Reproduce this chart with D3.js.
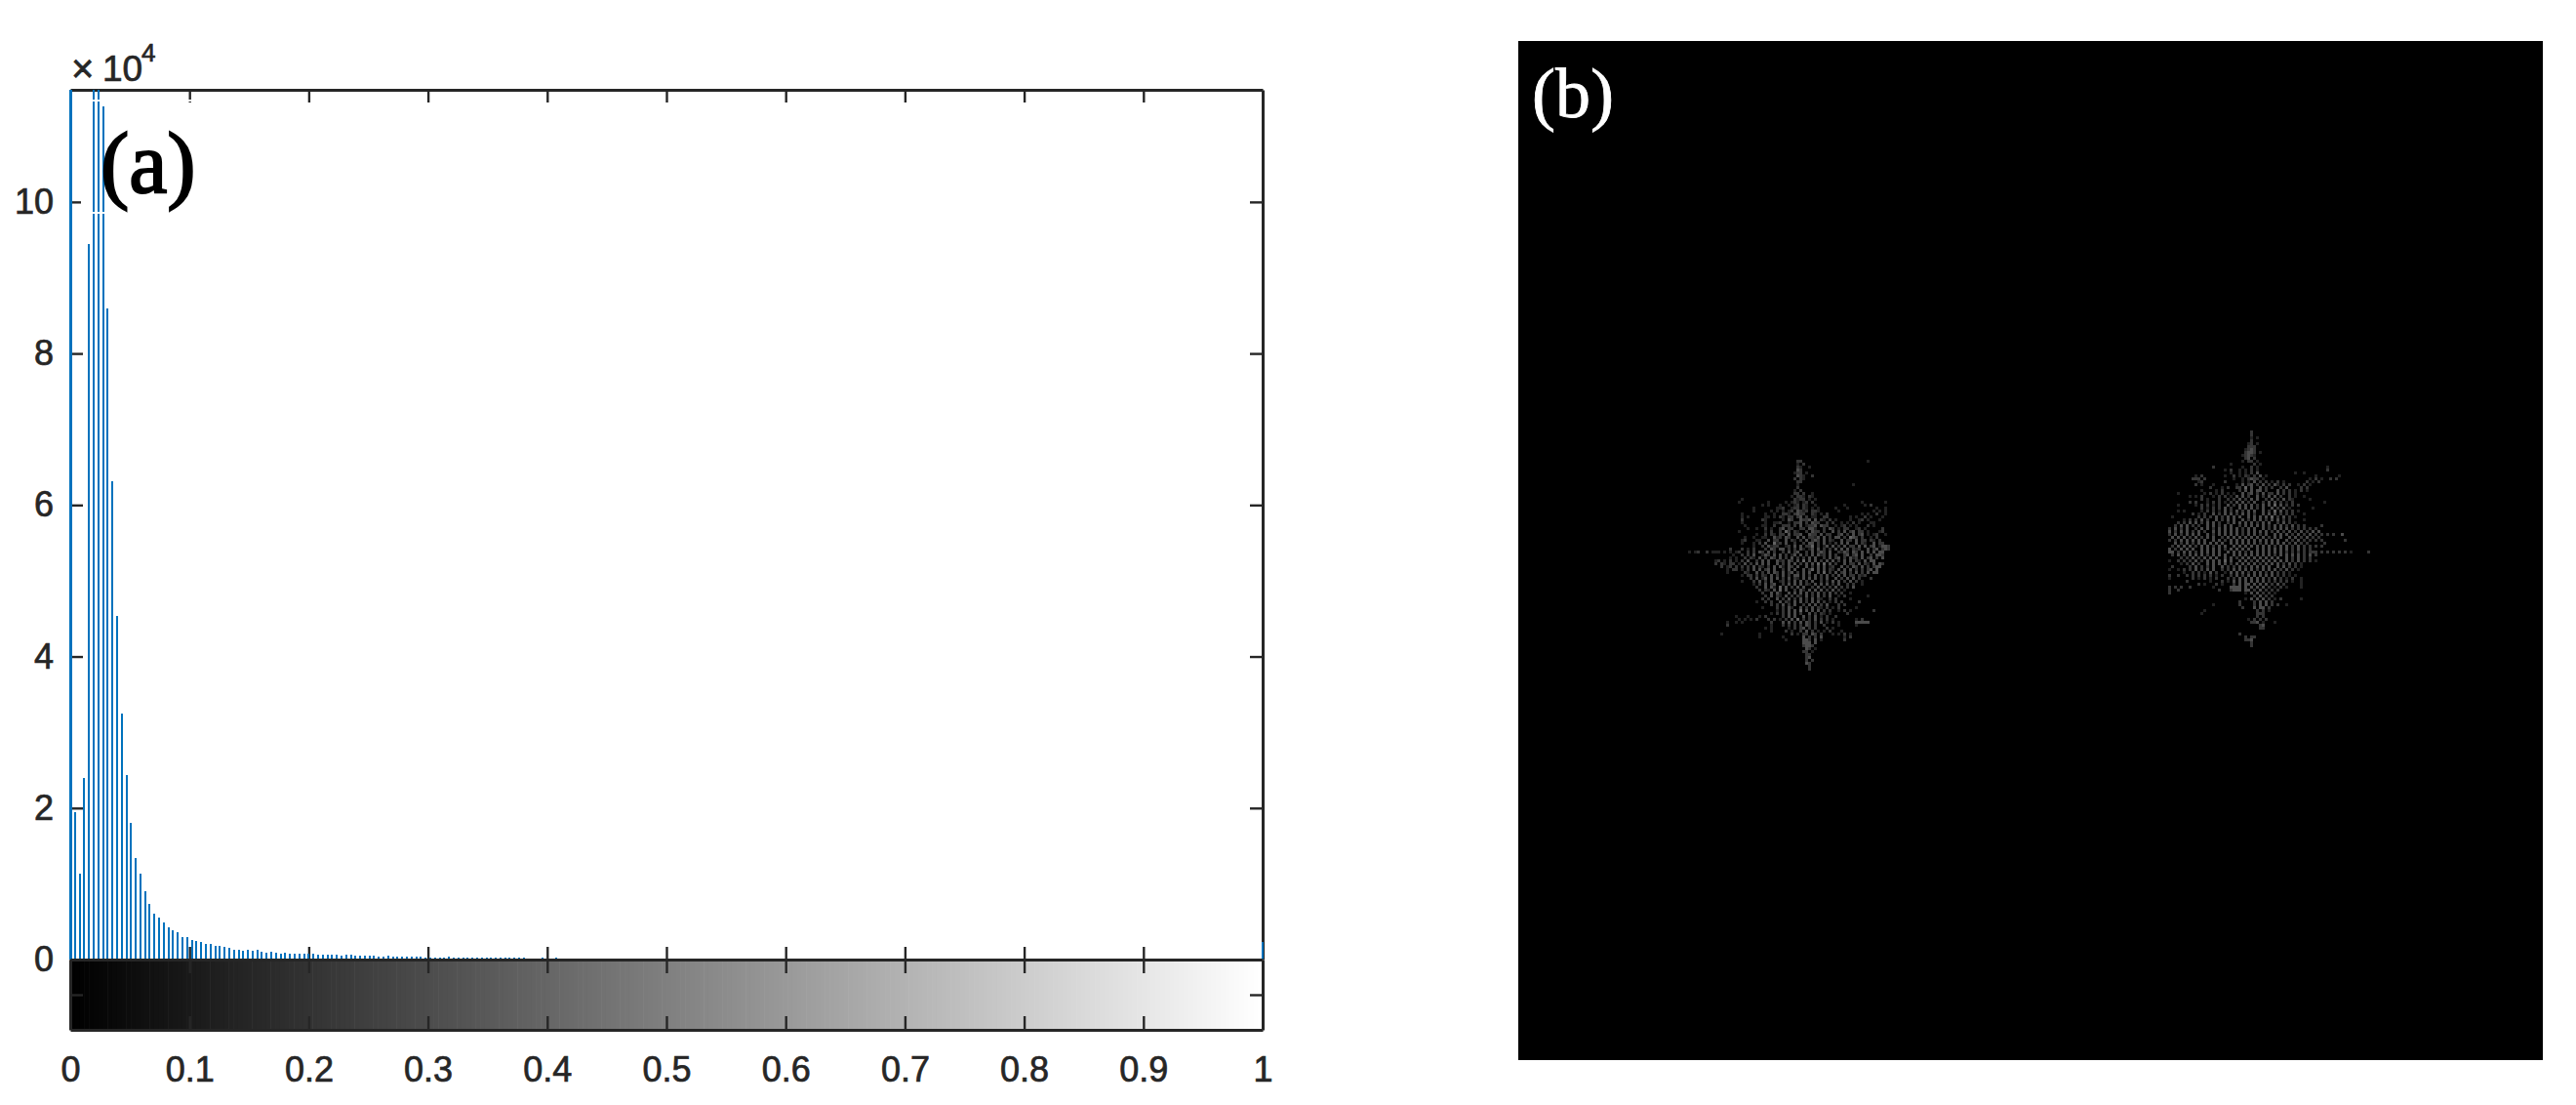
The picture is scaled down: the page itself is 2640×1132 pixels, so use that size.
<!DOCTYPE html>
<html><head><meta charset="utf-8">
<script src="https://cdnjs.cloudflare.com/ajax/libs/d3/7.9.0/d3.min.js"></script>
<style>html,body{margin:0;padding:0;background:#fff}svg{display:block}</style>
</head><body><svg id="c" width="2640" height="1132"></svg>
<script>
// histogram counts in units of 1e4, for gray bins 0..105 (bins 105..254 are empty)
const counts = [11.6,1.95,1.14,2.4,9.45,11.6,11.6,11.26,8.6,6.31,4.53,3.25,2.43,1.81,1.34,1.14,.906,.74,.6,.56,
.49,.43,.39,.365,.3,.29,.26,.25,.236,.2,.2,.185,.185,.17,.16,.133,.133,.12,.133,.12,
.133,.107,.095,.107,.095,.08,.095,.08,.08,.08,.08,.08,.08,.06,.06,.06,.06,.06,.05,.06,
.06,.047,.047,.047,.047,.047,.034,.034,.05,.034,.034,.034,.034,.034,.034,.034,.02,.02,.02,.02,
.02,.034,.02,.02,.02,.02,.02,.02,.02,.02,.02,.02,.02,.02,.02,.02,.02,.02,0,0,
0,.02,0,0,.02];
const lastBinCount = .23;
const yTicks = [0,2,4,6,8,10];
const xTicks = [0,.1,.2,.3,.4,.5,.6,.7,.8,.9,1];
const labelA = "(a)", labelB = "(b)";
// panel (b): transcribed gray cells, one string per pixel row; '.' is black, digits are brightness levels
const leftBlob = [
"......................................22......................1",
"......................................1.2",
"......................................21..1",
"......................................32.",
".....................................122.1",
"......................................321..2",
".....................................2.21",
"......................................22",
"......................................1..................1",
"......................................2",
".....................................1.2",
".....................................22.2..1",
"....................................1.221.21",
"...................1.................2122.1.1",
"..................1.........1.....1.121.12.2................1.......1",
"..........................1.1...1..1.12.21..1.........1......1.2",
".......................1.......112..122.21.1.1.....1...1.........1..1",
".......................1.....1.1.1.12.3212.221......1...........1.1.1",
"...................1.......1..1..221.2322..21.1.2...........1.1..2..1",
"...................1.1.....11.1.21.22.23.2.11..22.......1.1..2.1...1",
"...................2......21.....1.32..3223.3.21.2.1....1..12.1...1",
"...................1.......1..112..1.223.2.322..2.2..1.1.2.1...11",
"....................1.....11..2..222.2.3.1223.322..1.12.1.1...2.1",
".....................1..1..2.1..23.22..22.331..2.32.1.22..12.1.....2",
"..................1........1.2..2.42.21..2.322.2..3.2.3.23.22.1...12",
"........................1..2.21.22.3.223..322.3.22..23.2.3.23.1.12..1",
"....................1..1..11..312.32..3.3.2213.3.2.33.2.432.2..1.2",
"...................12...11..3.22..3.21.2.3.232.3.21..3.22.3.22.21.2",
"...................1...1.2.3..412.3..2..2.33.2.3.1.2.3.3..3.21..3.22",
".......................1..2.3122..12.3.3.224.2.13.3.2.3.22.3.3.23.1332",
"...............2...2.1.2...2.32.33.2.2.31.13.3.2.2.3.3.3.212..3.23.232",
".1.12..2.111.1.1.12..2.2.32.3.2..2.3.23..2.3.232.3..2132.32.3.3.3.33",
"................1..2.2.3..132.3.3.2.13.3.2.3.312.3.2..23.23.3..2.332",
"...............1.1..2.21.3.2.32.3.2.3.2.2.3.3..2.3.23.2.312.3.23.2.3",
"..........12.1.2.1.2.3..2.3.3..312.32.3.4.3.3.2.3.3.2.3.3.21.3.33",
"..........2.21.22.1.3.2.3.3.3..3.2.3.3.2.3.3.4.4.3.2..3.22.3.21.3.32",
"............2.12.2.2.2.3.21.2.3.31.32.3..3.2.3.3.12..3.2.32.3.2.233",
"..............1.22.1.2.3.3.23.3..2.3.3..3.24.3.3.21.3.3.3.2.2.23.3",
"..............1.....21..3.2.3.32.3.23.2.3.3..3.4.2.3.23.2.3.2.3.33",
"...................1.22.2.21.3.2.3.2.33.3.2.3.2.3.2.3.3.22.212",
"......................2.3.13.3.3.2.3.21.3.3.3.2.3..3.2.3.3.2...2",
"...................1...2.3.2.3..12.2.3.3.2.3..2.2.3.3.2.3.2.1",
".......................1.2.3.23..2.3.3.3.21.3.3.3.2.3..2.2..1",
"........................2..3.31.4.3.2.3.3..2.3.2.2.3.2.2.3",
".........................2.21.3.4.3..2.31.3.3.3.2.3.2.1",
"..........................2..3.31..3.3.3.3.2.3.2.3.2.2..1",
"...........................2.3.21.3.2.21.3.2.3.2.3..1.2.......1",
"..........................2.2..3.2.3.2.3.2.3.21..2.2....1",
"........................1..2.2..3.21.3.3.2.3.3.2.1.2.2.....2",
".............................2.2.3.2.3..2.3.3.2.3...2.2",
"..........................1....2.2.31..3.2.3.21.2.1.2.....1",
"...............................1.2.3.3.4.3.3.3.2.2..1.2.1.......2",
".............................1.2.2.3.3.2..3.2.21.1.....2",
".................1...1...1.2.....2.3.3..3.2.3.1.2..2",
"..................1.1.1.2...2.2.1.2.3.4.2.2.3.2.2.1.......1.2",
"..............1..1.1.........2...3.3.2.3.32.2.3.1.2.1.....33333",
"..............2..............1...2.2.2.2.32.2..2....1.....1",
"...........................1.1.....1.2.23.2.2...2.1",
".............................1....2.1..2.3.2.1.1.2...1",
"............1............1..........2.1.22.32.2...1.1.2.1",
".........................1.......1......3.2.2.3.......1.2",
"..................................1.....332.3.1.......2",
"........................................333.3",
"........................................2332",
".........................................32.1",
"........................................22.1",
".........................................22",
".........................................23",
".........................................2.2",
".........................................32",
"..........................................2",
"..........................................2",
];
const rightBlob = [
"............................2",
"............................2",
"............................1.1",
"............................2",
"...........................12.1",
"...........................222",
"..........................1232",
"..........................2332.1",
".........................12321",
"..........................23.2",
".........................1.22.1",
".....................1.......2.1",
"...............2.........1..2.1.......................1",
"...................1.2..1.1.2.1.......................2",
".....................1..1.1.2.3............1..1.......",
".........1.2.......1..2.1.21.2.3.1................1.......1",
"........222.2.........1..1.2322.1...............1.2.1..2.2",
"..........12.......2.....1.1.3.2.2.1.2.1.......2.1.2",
".........2.1...1.......1.3.23.2.3.2.31.2.2..1.2.1",
"..............2...1.2..22.4.3..3.2.2..2.3....2.2",
"...........1....1.2.....2.3.3.33.2...3.2.2.1.2.1",
"...1........1.2.1.2.1.1..3.23.2.3.22.3.2.2.1",
".......1.1.2...1.2.2.1.3.3.2..3.2.3.3.2..2.1..1",
"...........2.1...2..2.2.3.2.3.3..2.3.2.3.21.....1",
".......2.2...1.2.2.1.2.3.3.2.3..2.3.3.2.1.2..........1",
"...1.....1.2.2.1.2..3.2.3.3.3.2.3.3.4.3.2.2.2",
"...........2.1.2.2.3.2..3.3.3.2.3..3.2.3.1.......1",
"...1.1.....1.2.2.1.3.2.3.2.3.3..3.2.4.3.2.2.1",
"........2.1.2..3.2.3.3.2.3.3.2..3.3.3.2.2.2...1",
".1........2.2.2.3.2.3.3.3..3.3.3.3.4.2.3.2.1",
".....1.2.2.3.2..3.2.3.3..3.2.3.3.2.3.3.2.2....1",
"...2.2.3.3.2.3.3.2..2.3.3.3.3.2.3.3..2.3.2.1",
"..2.3.3.2.2..3.3.2.3.3..2.3.3.3.3.2.3.3.2.3.2.2.....2",
"2.3.2.3..2.3.3.2.3.3.3.3.2.3.3..3.2.3.3.3.2.2.2.2.2",
"3.2.3.3.2.3.2..3.3.3.3.3.2.3.3.3.3.2.3.2.3.2.3.2.3.3",
"2.3.2.3.3.3..3.2.3.3.3.3.2.3.3.2.3..3.3.3.2.3.2.3.2.2.2.2..3",
".3.3.3.2.3.2.3.3..2.3.3.3.3.3.3.3.2.3.3..3.3.2.3.2.2",
"2.2.3.3.3.3.3..3.3.2.3.3.3.3.3.3.3.3.3..3.2.3.2.2.2.2.......2",
"..3.2.3.2.3.3.3.3.3..3.3.3.3.3.2.3.3.3.3.2.3.2.2.....2",
".2.3.3.3.2.3.3.2.3.3..3.3.3.3.3.3.3.2.3.3.2.3.2.2.2.2",
"3.2.3.3.3..3.3.3.3.2.3.3.3.3..3.3.3.3.3.3.2.3.2.2",
"33.2.3.3.2.3.3.3.3..3.3.3.2.3.3.3.3.3.3.2.2.2.2.222.2.2.2.2.2.1.....2",
".2.3.2.3.3.3.2.3.3.3..3.3.3.3.3.3.3.2.3.3.3.3.2.3.2",
"....2.2.3.2.3.3.3..3.3.2.3.3.3.3.3.3.3..3.2.3.2.2",
"1..2.2.2.3.2.3.3.3.4.3..3.3.2.3.3.3.3.3.3.2.3.2.2.1",
"....1.2.3.2..3.3.3.3.2.3.3.3.3.2.3.3.3.2.3.2.1",
".2.....2.3.2.2.3..3.2.2.3.2.3.3.3.3..3.3.2.2.1",
"1..1.2.2.3.2.3.3..2.2.3.3.3.3.2.3.3.3.2.3.2.1",
".....1..2.2.1.3.2..1.3.3.3.2.3.3.2.3.2.2.1",
"2..2..2.2.2.2.2.1.2..2.3.2.3.3.3.3.3.2.2.1.1",
"1.......2.1.2.1.2...2.2.3.3.3.3.3.2.3.2.1.2..1",
"......2.......1...2.1.3.3.3.3.3.3.2.2.2.2.1..1",
"..........2.1...2.1...2.3.33.3.3.3.2.3.2.....1",
"2.2.2..2.......1.....3333.3.3.3.3.2.1.2.1....1",
"2..2.............2...2333.33.2.3.2.2.2",
"2.........................1.3.3.2.2.1",
".............................2.3.2.2",
"..........................1.3.3.3.2.1.2......1",
"........................2....2.3.3.2",
"...............1........2....2.3.3.2.2..1",
".........................2...3.33.2",
"............1.................2.2.1",
"...........1..................222",
"..............................2.2",
"...........................1.2.2.2",
"............................223.1...1",
"...............................23",
"...............................22",
"........................................",
"........................2",
"..........................2.22",
"..........................223",
"............................2",
"............................2",
];

const svg = d3.select("#c");
const ink = "#262626", barColor = "#0072BD", fontSans = "'Liberation Sans', Arial, sans-serif", fontSerif = "'Liberation Serif', 'Times New Roman', serif";
const L = 72, R = 1294, T = 92, B0 = 983, B1 = 1055;
const x = d3.scaleLinear().domain([0,1]).range([L,R]);
const y = d3.scaleLinear().domain([0,11.48]).range([B0,T]).clamp(true);
const yBar = d3.scaleLinear().domain([0,1]).range([B1,B0]);

function styleAxis(g){
  g.selectAll("path.domain").attr("stroke",ink).attr("stroke-width",3);
  g.selectAll(".tick line").attr("stroke",ink).attr("stroke-width",2.4);
  g.selectAll("text").attr("fill",ink).attr("stroke",ink).attr("stroke-width",.7).style("font-family",fontSans).style("font-size","36px");
  g.attr("font-family",null).attr("font-size",null);
}
const blank = () => "";
const main = svg.append("g");
main.append("g").attr("transform",`translate(${L},0)`).call(d3.axisLeft(y).tickValues(yTicks).tickSize(-13).tickSizeOuter(0).tickPadding(17).tickFormat(d3.format("d"))).call(styleAxis);
main.append("g").attr("transform",`translate(${R},0)`).call(d3.axisRight(y).tickValues(yTicks).tickSize(-13).tickSizeOuter(0).tickFormat(blank)).call(styleAxis);
main.append("g").attr("transform",`translate(0,${T})`).call(d3.axisTop(x).tickValues(xTicks.slice(1,-1)).tickSize(-13).tickSizeOuter(0).tickFormat(blank)).call(styleAxis);
main.append("g").attr("transform",`translate(0,${B0})`).call(d3.axisBottom(x).tickValues(xTicks.slice(1,-1)).tickSize(-13).tickSizeOuter(0).tickFormat(blank)).call(styleAxis);

// histogram stems
const bins = counts.map((c,i)=>({v:i/255,c})).concat([{v:1,c:lastBinCount}]).filter(d=>d.c>0);
svg.append("g").selectAll("rect").data(bins).join("rect")
  .attr("x",d=>Math.round(x(d.v))-1).attr("width",d=>d.v===0?3:2)
  .attr("y",d=>y(d.c)).attr("height",d=>B0-y(d.c)).attr("fill",barColor).attr("shape-rendering","crispEdges");

// gray ramp
const ramp = d3.scaleLinear().domain([0,255]).range([0,1]);
const gray = d3.scaleLinear().domain([0,1]).range(["#000000","#ffffff"]);
const rampBand = d3.scaleBand().domain(d3.range(256)).range([L,R]);
svg.append("g").selectAll("rect").data(d3.range(256)).join("rect")
  .attr("x",d=>rampBand(d)).attr("width",rampBand.bandwidth()+.6)
  .attr("y",yBar(1)).attr("height",yBar(0)-yBar(1)).attr("fill",d=>gray(ramp(d)));

const cb = svg.append("g");
cb.append("g").attr("transform",`translate(0,${B0})`).call(d3.axisTop(x).tickValues(xTicks.slice(1,-1)).tickSize(-14).tickSizeOuter(0).tickFormat(blank)).call(styleAxis);
cb.append("g").attr("transform",`translate(0,${B1})`).call(d3.axisBottom(x).tickValues(xTicks).tickSize(-14).tickSizeOuter(0).tickPadding(27).tickFormat(d3.format("~g"))).call(styleAxis);
cb.append("g").attr("transform",`translate(${L},0)`).call(d3.axisLeft(yBar).tickValues([.5]).tickSize(-13).tickSizeOuter(0).tickFormat(blank)).call(styleAxis);
cb.append("g").attr("transform",`translate(${R},0)`).call(d3.axisRight(yBar).tickValues([.5]).tickSize(-13).tickSizeOuter(0).tickFormat(blank)).call(styleAxis);

// exponent
const expo = svg.append("g").attr("fill",ink).attr("stroke",ink).attr("stroke-width",.7).style("font-family",fontSans);
expo.append("text").attr("x",73).attr("y",84).style("font-size","40px").text("×");
expo.append("text").attr("x",105).attr("y",83).style("font-size","37px").text("10");
expo.append("text").attr("x",145).attr("y",63).style("font-size","26px").text("4");

// text box of (a): its white outline cuts through the stems and ticks
svg.append("rect").attr("x",84).attr("y",103).attr("width",122).attr("height",115).attr("fill","none").attr("stroke","#fff").attr("stroke-width",2);
svg.append("text").attr("x",103).attr("y",197).attr("fill","#000").attr("stroke","#000").attr("stroke-width",2)
  .style("font-family",fontSerif).style("font-size","88px").text(labelA);

// panel (b)
const imgX = d3.scaleLinear().domain([0,350]).range([1556,2606]);
const imgY = d3.scaleLinear().domain([0,348]).range([42,1086]);
const level = d3.scaleLinear().domain([0,1,5]).range(["#000000","#202020","#787878"]);
const defs = svg.append("defs");
defs.append("filter").attr("id","soft").attr("x","-5%").attr("y","-5%").attr("width","110%").attr("height","110%")
  .append("feGaussianBlur").attr("stdDeviation",.7);
svg.append("rect").attr("x",imgX(0)).attr("y",imgY(0)).attr("width",imgX(350)-imgX(0)).attr("height",imgY(348)-imgY(0)).attr("fill","#000");
function cells(rows,c0,r0){
  const out=[];
  rows.forEach((s,r)=>{ for(let c=0;c<s.length;c++){ if(s[c]!=="."&&s[c]!==" ") out.push({c:c0+c,r:r0+r,l:+s[c]}); } });
  return out;
}
const pixels = cells(leftBlob,57,143).concat(cells(rightBlob,222,133));
svg.append("g").attr("filter","url(#soft)").selectAll("rect").data(pixels).join("rect")
  .attr("x",d=>imgX(d.c)).attr("y",d=>imgY(d.r)).attr("width",imgX(1)-imgX(0)).attr("height",imgY(1)-imgY(0)).attr("fill",d=>level(d.l));
svg.append("text").attr("x",1570).attr("y",120).attr("fill","#fff").attr("stroke","#fff").attr("stroke-width",.8).style("font-family",fontSerif).style("font-size","72px").text(labelB);
</script></body></html>
